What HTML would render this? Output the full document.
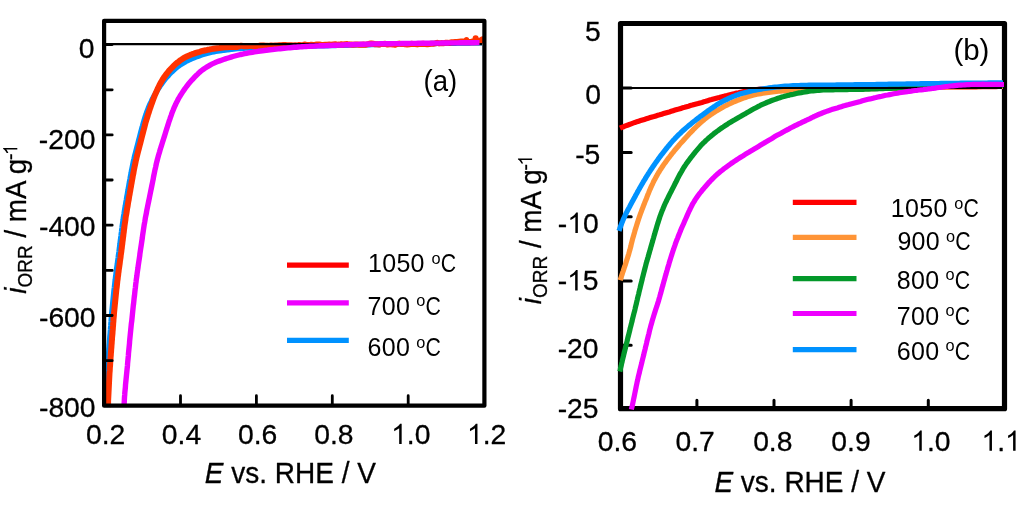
<!DOCTYPE html><html><head><meta charset="utf-8"><title>ORR curves</title><style>html,body{margin:0;padding:0;background:#fff;width:1024px;height:511px;overflow:hidden}.ar{stroke:#000;stroke-width:0.3px;stroke-linejoin:round}.h{fill-opacity:0;stroke-opacity:0}</style></head><body><svg width="1024" height="511" viewBox="0 0 1024 511" style="display:block;will-change:transform;font-family:'Liberation Sans',sans-serif"><defs><path id="one" d="M763,0H583V1147Q518,1085 412,1023T222,930V1104Q373,1175 486,1276T646,1472H763Z"/></defs><defs><clipPath id="ca"><rect x="100" y="20" width="386" height="388"/></clipPath><clipPath id="cb"><rect x="612" y="23" width="395" height="388"/></clipPath></defs><g clip-path="url(#ca)"><path d="M105.6,407.0L105.7,405.0L105.8,403.0L105.8,401.0L105.9,399.0L106.0,397.0L106.1,395.0L106.2,393.0L106.3,391.0L106.4,389.0L106.5,387.0L106.6,385.0L106.7,383.0L106.8,381.0L106.9,379.0L107.0,377.0L107.1,375.0L107.2,373.0L107.4,371.0L107.5,369.0L107.6,367.1L107.8,365.1L107.9,363.1L108.0,361.1L108.2,359.1L108.3,357.1L108.5,355.1L108.6,353.1L108.8,351.1L108.9,349.1L109.1,347.1L109.2,345.1L109.4,343.1L109.5,341.1L109.7,339.1L109.8,337.1L110.0,335.1L110.2,333.1L110.3,331.2L110.5,329.2L110.6,327.2L110.8,325.2L110.9,323.2L111.1,321.2L111.2,319.2L111.4,317.2L111.6,315.2L111.7,313.2L111.9,311.2L112.1,309.2L112.3,307.2L112.5,305.2L112.7,303.3L112.9,301.3L113.1,299.3L113.3,297.3L113.5,295.3L113.7,293.3L113.9,291.3L114.1,289.3L114.4,287.3L114.6,285.4L114.8,283.4L115.0,281.4L115.3,279.4L115.5,277.4L115.8,275.4L116.0,273.4L116.3,271.5L116.5,269.5L116.8,267.5L117.1,265.5L117.4,263.5L117.6,261.6L117.9,259.6L118.2,257.6L118.4,255.6L118.7,253.6L119.0,251.6L119.2,249.7L119.5,247.7L119.7,245.7L120.0,243.7L120.2,241.7L120.5,239.7L120.7,237.8L121.0,235.8L121.2,233.8L121.5,231.8L121.7,229.8L122.0,227.8L122.2,225.9L122.5,223.9L122.8,221.9L123.1,219.9L123.3,217.9L123.6,216.0L124.0,214.0L124.3,212.0L124.6,210.0L124.9,208.1L125.3,206.1L125.6,204.1L125.9,202.1L126.3,200.2L126.6,198.2L126.9,196.2L127.3,194.3L127.6,192.3L128.0,190.3L128.3,188.3L128.7,186.4L129.0,184.4L129.4,182.4L129.7,180.5L130.1,178.5L130.4,176.5L130.8,174.6L131.2,172.6L131.5,170.6L131.9,168.7L132.3,166.7L132.7,164.8L133.1,162.8L133.5,160.8L134.0,158.9L134.4,157.0L134.9,155.0L135.4,153.1L135.9,151.1L136.4,149.2L136.9,147.3L137.4,145.3L137.9,143.4L138.4,141.5L138.9,139.5L139.4,137.6L139.9,135.7L140.4,133.7L140.9,131.8L141.4,129.8L141.9,127.9L142.5,126.0L143.0,124.1L143.6,122.1L144.1,120.2L144.7,118.3L145.3,116.4L146.0,114.5L146.6,112.6L147.3,110.8L148.0,108.9L148.7,107.0L149.5,105.2L150.3,103.4L151.2,101.6L152.0,99.8L152.9,98.0L153.9,96.2L154.9,94.5L155.9,92.8L156.9,91.1L157.9,89.4L159.0,87.7L160.1,86.0L161.3,84.4L162.4,82.8L163.6,81.2L164.8,79.6L166.1,78.1L167.4,76.6L168.8,75.1L170.1,73.6L171.5,72.2L173.0,70.9L174.4,69.5L175.9,68.2L177.5,66.9L179.0,65.8L180.6,64.6L182.3,63.6L184.0,62.6L185.7,61.6L187.5,60.7L189.3,59.9L191.1,59.0L192.9,58.3L194.8,57.5L196.6,56.8L198.5,56.1L200.4,55.4L202.3,54.8L204.2,54.2L206.1,53.6L208.0,53.1L210.0,52.6L211.9,52.2L213.9,51.8L215.8,51.4L217.8,51.1L219.8,50.8L221.7,50.5L223.7,50.2L225.7,50.0L227.7,49.7L229.7,49.5L231.7,49.2L233.6,49.0L235.6,48.8L237.6,48.6L239.6,48.5L241.6,48.3L243.6,48.2L245.6,48.1L247.6,48.0L249.6,47.9L251.6,47.8L253.6,47.8L255.6,47.7L257.6,47.6L259.6,47.5L261.6,47.5L263.6,47.4L265.6,47.4L267.6,47.3L269.6,47.2L271.6,47.2L273.6,47.1L275.6,47.1L277.6,47.0L279.6,47.0L281.6,46.9L283.6,46.9L285.6,46.8L287.6,46.7L289.6,46.7L291.6,46.6L293.6,46.6L295.6,46.5L297.6,46.5L299.6,46.4L301.6,46.4L303.6,46.3L305.6,46.3L307.6,46.2L309.6,46.2L311.6,46.1L313.6,46.0L315.6,46.0L317.6,45.9L319.6,45.9L321.6,45.8L323.6,45.8L325.6,45.7L327.6,45.7L329.6,45.6L331.6,45.6L333.6,45.5L335.5,45.5L337.5,45.4L339.5,45.4L341.5,45.3L343.5,45.3L345.5,45.2L347.5,45.2L349.5,45.1L351.5,45.1L353.5,45.0L355.5,45.0L357.5,44.9L359.5,44.9L361.5,44.8L363.5,44.8L365.5,44.8L367.5,44.7L369.5,44.7L371.5,44.6L373.5,44.6L375.5,44.5L377.5,44.5L379.5,44.5L381.5,44.4L383.5,44.4L385.5,44.3L387.5,44.3L389.5,44.2L391.5,44.2L393.5,44.1L395.5,44.1L397.5,44.1L399.5,44.0L401.5,44.0L403.5,44.0L405.5,43.9L407.5,43.9L409.5,43.9L411.5,43.8L413.5,43.8L415.5,43.8L417.5,43.7L419.5,43.7L421.5,43.7L423.5,43.6L425.5,43.6L427.5,43.6L429.5,43.6L431.5,43.5L433.5,43.5L435.5,43.5L437.5,43.4L439.5,43.4L441.5,43.4L443.5,43.4L445.5,43.3L447.5,43.3L449.5,43.3L451.5,43.2L453.5,43.2L455.5,43.2L457.5,43.1L459.5,43.1L461.5,43.1L463.5,43.1L465.5,43.0L467.5,43.0L469.5,43.0L471.5,42.9L473.5,42.9L475.5,42.9L477.5,42.9L479.5,42.8L481.5,42.8L482.0,42.8" stroke="#0092ff" stroke-width="5.4" fill="none" stroke-linejoin="round" stroke-linecap="butt"/><path d="M107.9,407.0L108.0,405.0L108.1,403.0L108.1,401.0L108.2,399.0L108.3,397.0L108.4,395.0L108.5,393.0L108.6,391.0L108.7,389.0L108.8,387.0L108.9,385.0L109.0,383.0L109.1,381.0L109.2,379.0L109.3,377.0L109.4,375.0L109.5,373.0L109.7,371.0L109.8,369.0L109.9,367.1L110.1,365.1L110.2,363.1L110.3,361.1L110.5,359.1L110.6,357.1L110.8,355.1L110.9,353.1L111.1,351.1L111.2,349.1L111.4,347.1L111.5,345.1L111.7,343.1L111.8,341.1L112.0,339.1L112.1,337.1L112.3,335.1L112.5,333.1L112.6,331.2L112.8,329.2L112.9,327.2L113.1,325.2L113.2,323.2L113.4,321.2L113.5,319.2L113.7,317.2L113.9,315.2L114.0,313.2L114.2,311.2L114.4,309.2L114.6,307.2L114.8,305.2L115.0,303.3L115.2,301.3L115.4,299.3L115.6,297.3L115.8,295.3L116.0,293.3L116.2,291.3L116.4,289.3L116.7,287.3L116.9,285.4L117.1,283.4L117.3,281.4L117.6,279.4L117.8,277.4L118.1,275.4L118.3,273.4L118.6,271.5L118.8,269.5L119.1,267.5L119.4,265.5L119.7,263.5L119.9,261.6L120.2,259.6L120.5,257.6L120.7,255.6L121.0,253.6L121.3,251.6L121.5,249.7L121.8,247.7L122.0,245.7L122.3,243.7L122.5,241.7L122.8,239.7L123.0,237.8L123.3,235.8L123.5,233.8L123.8,231.8L124.0,229.8L124.3,227.8L124.5,225.9L124.8,223.9L125.1,221.9L125.4,219.9L125.6,217.9L125.9,216.0L126.3,214.0L126.6,212.0L126.9,210.0L127.2,208.1L127.6,206.1L127.9,204.1L128.2,202.1L128.6,200.2L128.9,198.2L129.2,196.2L129.6,194.3L129.9,192.3L130.3,190.3L130.6,188.3L131.0,186.4L131.3,184.4L131.7,182.4L132.0,180.5L132.4,178.5L132.7,176.5L133.1,174.6L133.5,172.6L133.8,170.6L134.2,168.7L134.6,166.7L135.0,164.8L135.4,162.8L135.8,160.8L136.3,158.9L136.7,157.0L137.2,155.0L137.7,153.1L138.2,151.1L138.7,149.2L139.2,147.3L139.7,145.3L140.2,143.4L140.7,141.5L141.2,139.5L141.7,137.6L142.2,135.6L142.7,133.7L143.2,131.8L143.7,129.8L144.2,127.9L144.7,126.0L145.2,124.0L145.7,122.1L146.3,120.2L146.9,118.3L147.5,116.4L148.0,114.5L148.7,112.6L149.3,110.7L149.9,108.8L150.6,106.9L151.2,105.0L151.9,103.1L152.6,101.2L153.3,99.3L154.0,97.5L154.7,95.6L155.5,93.8L156.3,91.9L157.1,90.1L157.9,88.3L158.8,86.5L159.7,84.7L160.6,83.0L161.6,81.2L162.6,79.5L163.7,77.8L164.8,76.2L166.0,74.6L167.2,73.0L168.4,71.5L169.7,70.0L171.1,68.5L172.5,67.1L173.9,65.7L175.3,64.3L176.8,63.0L178.4,61.8L179.9,60.6L181.6,59.5L183.2,58.4L184.9,57.4L186.7,56.5L188.5,55.7L190.3,54.9L192.2,54.2L194.0,53.6L195.9,52.9L197.8,52.3L199.7,51.8L201.6,51.2L203.6,50.7L205.5,50.3L207.5,49.8L209.4,49.5L211.4,49.1L213.4,48.8L215.3,48.5L217.3,48.2L219.3,48.0L221.3,47.7L223.3,47.5L225.3,47.3L227.2,47.2L229.2,47.0L231.2,46.9L233.2,46.8L235.2,46.9L237.2,47.0L239.2,46.3L241.2,45.7L243.2,46.2L245.2,46.2L247.2,46.3L249.2,46.1L251.2,46.1L253.2,46.1L255.2,46.1L257.2,46.1L259.2,45.8L261.2,45.4L263.2,45.4L265.2,45.8L267.2,45.7L269.2,46.0L271.2,45.5L273.2,45.7L275.2,45.5L277.2,45.4L279.2,45.3L281.2,45.2L283.2,45.1L285.2,45.1L287.2,45.2L289.2,45.2L291.2,45.2L293.2,45.4L295.2,45.2L297.2,45.5L299.2,44.9L301.2,45.2L303.2,45.0L305.2,44.5L307.2,45.1L309.2,45.1L311.2,44.7L313.2,44.9L315.2,44.8L317.2,44.4L319.2,44.6L321.2,44.8L323.2,44.9L325.2,44.7L327.2,44.7L329.2,44.6L331.2,44.7L333.2,44.4L335.2,44.2L337.2,44.8L339.2,44.6L341.2,44.3L343.2,44.7L345.2,44.2L347.2,44.1L349.2,44.6L351.2,44.5L353.2,44.8L355.2,44.6L357.2,44.5L359.2,44.7L361.2,44.7L363.2,44.6L365.2,44.8L367.2,44.3L369.2,43.8L371.2,43.5L373.2,43.8L375.2,44.2L377.2,44.3L379.2,44.6L381.2,44.0L383.2,43.9L385.2,43.8L387.2,44.5L389.2,44.2L391.2,44.2L393.2,44.4L395.2,44.8L397.2,44.0L399.2,43.6L401.2,44.0L403.2,43.9L405.2,44.3L407.2,44.4L409.2,44.3L411.2,43.8L413.2,44.0L415.2,44.1L417.2,44.4L419.2,44.1L421.2,44.0L423.2,43.7L425.2,44.1L427.2,44.3L429.2,44.0L431.2,43.8L433.2,43.8L435.2,43.4L437.2,42.8L439.2,43.4L441.2,43.1L443.2,43.3L445.2,42.8L447.2,42.8L449.2,43.0L451.2,42.2L453.1,42.2L455.1,42.1L457.1,42.0L459.1,41.8L461.1,41.6L463.1,41.6L465.1,41.6L467.1,41.7L469.1,41.9L471.1,41.8L473.1,41.6L475.1,41.4L477.1,41.2L479.1,40.8L481.1,40.5L483.0,40.4L485.0,40.3L486.0,40.4" stroke="#ff3300" stroke-width="6" fill="none" stroke-linejoin="round" stroke-linecap="butt"/><g fill="#ff3300"><circle cx="466.5" cy="39.6" r="2.6"/><circle cx="475.6" cy="38.2" r="3"/><circle cx="482.8" cy="39.4" r="3.2"/></g><line x1="106" y1="44.1" x2="482" y2="44.1" stroke="#000" stroke-width="2.2"/><path d="M124.0,407.0L124.1,405.0L124.2,403.0L124.3,401.0L124.4,399.0L124.5,397.0L124.7,395.0L124.8,393.0L125.0,391.0L125.2,389.1L125.4,387.1L125.5,385.1L125.7,383.1L125.9,381.1L126.1,379.1L126.3,377.1L126.5,375.1L126.7,373.1L126.9,371.1L127.1,369.1L127.3,367.2L127.5,365.2L127.6,363.2L127.8,361.2L128.0,359.2L128.2,357.2L128.4,355.2L128.5,353.2L128.7,351.2L128.9,349.2L129.1,347.2L129.3,345.2L129.5,343.3L129.6,341.3L129.8,339.3L130.0,337.3L130.2,335.3L130.4,333.3L130.6,331.3L130.8,329.3L131.0,327.3L131.2,325.3L131.4,323.4L131.7,321.4L131.9,319.4L132.1,317.4L132.3,315.4L132.5,313.4L132.7,311.4L132.9,309.4L133.1,307.4L133.3,305.5L133.6,303.5L133.8,301.5L134.0,299.5L134.2,297.5L134.5,295.5L134.7,293.5L134.9,291.5L135.1,289.6L135.4,287.6L135.6,285.6L135.8,283.6L136.1,281.6L136.3,279.6L136.6,277.6L136.9,275.7L137.1,273.7L137.4,271.7L137.7,269.7L138.0,267.7L138.2,265.8L138.5,263.8L138.8,261.8L139.1,259.8L139.4,257.8L139.7,255.9L139.9,253.9L140.2,251.9L140.5,249.9L140.8,247.9L141.1,246.0L141.4,244.0L141.7,242.0L142.0,240.0L142.3,238.0L142.5,236.1L142.8,234.1L143.1,232.1L143.4,230.1L143.7,228.2L144.0,226.2L144.3,224.2L144.7,222.2L145.0,220.3L145.3,218.3L145.7,216.3L146.1,214.4L146.5,212.4L146.8,210.4L147.2,208.5L147.6,206.5L148.0,204.5L148.4,202.6L148.8,200.6L149.2,198.7L149.6,196.7L150.0,194.7L150.4,192.8L150.8,190.8L151.2,188.9L151.6,186.9L152.0,184.9L152.4,183.0L152.8,181.0L153.2,179.1L153.5,177.1L153.9,175.1L154.3,173.2L154.7,171.2L155.1,169.3L155.6,167.3L156.0,165.4L156.4,163.4L156.9,161.5L157.4,159.5L157.9,157.6L158.4,155.7L159.0,153.8L159.6,151.8L160.1,149.9L160.7,148.0L161.3,146.1L161.9,144.2L162.5,142.3L163.1,140.4L163.7,138.5L164.3,136.6L164.9,134.7L165.5,132.7L166.1,130.8L166.7,128.9L167.3,127.0L167.9,125.1L168.5,123.2L169.1,121.3L169.8,119.4L170.4,117.5L171.1,115.6L171.7,113.8L172.4,111.9L173.2,110.0L173.9,108.2L174.7,106.4L175.6,104.5L176.4,102.7L177.3,101.0L178.2,99.2L179.2,97.5L180.2,95.8L181.3,94.1L182.4,92.4L183.5,90.7L184.6,89.1L185.8,87.5L187.0,85.9L188.2,84.3L189.5,82.8L190.8,81.3L192.1,79.8L193.5,78.3L194.8,76.9L196.2,75.5L197.7,74.1L199.1,72.7L200.6,71.4L202.2,70.2L203.8,69.0L205.4,67.9L207.1,66.8L208.8,65.8L210.5,64.8L212.3,63.9L214.1,63.1L215.9,62.3L217.7,61.6L219.6,60.9L221.5,60.2L223.4,59.5L225.3,58.9L227.2,58.3L229.1,57.7L231.0,57.1L232.9,56.5L234.8,56.0L236.7,55.5L238.7,55.0L240.6,54.5L242.6,54.1L244.5,53.7L246.5,53.3L248.5,52.9L250.4,52.6L252.4,52.3L254.4,51.9L256.3,51.6L258.3,51.3L260.3,51.1L262.3,50.8L264.3,50.5L266.2,50.3L268.2,50.0L270.2,49.8L272.2,49.6L274.2,49.3L276.2,49.1L278.2,48.9L280.2,48.7L282.1,48.5L284.1,48.3L286.1,48.1L288.1,47.9L290.1,47.7L292.1,47.5L294.1,47.3L296.1,47.2L298.1,47.0L300.1,46.9L302.1,46.7L304.1,46.6L306.1,46.5L308.1,46.4L310.0,46.3L312.0,46.2L314.0,46.1L316.0,46.0L318.0,45.9L320.0,45.8L322.0,45.8L324.0,45.7L326.0,45.6L328.0,45.5L330.0,45.5L332.0,45.4L334.0,45.3L336.0,45.2L338.0,45.1L340.0,45.1L342.0,45.0L344.0,44.9L346.0,44.8L348.0,44.7L350.0,44.7L352.0,44.6L354.0,44.5L356.0,44.4L358.0,44.4L360.0,44.3L362.0,44.2L364.0,44.2L366.0,44.1L368.0,44.0L370.0,44.0L372.0,44.0L374.0,43.9L376.0,43.9L378.0,43.9L380.0,43.8L382.0,43.8L384.0,43.8L386.0,43.7L388.0,43.7L390.0,43.7L392.0,43.7L394.0,43.6L396.0,43.6L398.0,43.6L400.0,43.6L402.0,43.5L404.0,43.5L406.0,43.5L408.0,43.5L410.0,43.4L412.0,43.4L414.0,43.4L416.0,43.4L418.0,43.3L420.0,43.3L422.0,43.3L424.0,43.3L426.0,43.2L428.0,43.2L430.0,43.2L432.0,43.2L434.0,43.1L436.0,43.1L438.0,43.1L440.0,43.1L442.0,43.0L444.0,43.0L446.0,43.0L448.0,43.0L450.0,42.9L452.0,42.9L454.0,42.9L456.0,42.9L458.0,42.9L460.0,42.8L462.0,42.8L464.0,42.8L466.0,42.8L468.0,42.7L469.9,42.7L471.9,42.7L473.8,42.7L475.7,42.6L477.6,42.6L479.5,42.6" stroke="#ee00ff" stroke-width="5.4" fill="none" stroke-linejoin="round" stroke-linecap="butt"/></g><path d="M104,44.6H112.2 M104,89.8H112.2 M104,134.9H112.2 M104,180.0H112.2 M104,225.2H112.2 M104,270.4H112.2 M104,315.5H112.2 M104,360.7H112.2 M180.5,405.7V395.7 M256.4,405.7V395.7 M332.3,405.7V395.7 M408.2,405.7V395.7" stroke="#000" stroke-width="2.8" stroke-linecap="round" fill="none"/><rect x="104.1" y="20.8" width="380.3" height="384.9" fill="none" stroke="#000" stroke-width="4.2" stroke-linejoin="round"/><path d="M620,23.8H631.2 M620,88.1H631.2 M620,152.4H631.2 M620,216.7H631.2 M620,281.0H631.2 M620,345.3H631.2 M620,409.6H631.2 M696.9,408.7V400.3 M774.0,408.7V400.3 M851.1,408.7V400.3 M928.3,408.7V400.3" stroke="#000" stroke-width="3" stroke-linecap="round" fill="none"/><rect x="620.5" y="23.5" width="384" height="385.2" fill="none" stroke="#000" stroke-width="5.2" stroke-linejoin="round"/><g clip-path="url(#cb)"><path d="M620.0,128.2L621.8,127.4L623.7,126.7L625.5,125.9L627.4,125.2L629.3,124.5L631.1,123.8L633.0,123.1L634.9,122.4L636.8,121.8L638.7,121.2L640.6,120.6L642.5,120.0L644.4,119.4L646.3,118.8L648.2,118.2L650.2,117.6L652.1,117.0L654.0,116.5L655.9,115.9L657.8,115.3L659.7,114.8L661.7,114.2L663.6,113.6L665.5,113.0L667.4,112.4L669.3,111.9L671.2,111.3L673.1,110.7L675.1,110.1L677.0,109.5L678.9,109.0L680.8,108.4L682.7,107.8L684.6,107.3L686.6,106.7L688.5,106.2L690.4,105.6L692.3,105.1L694.3,104.5L696.2,104.0L698.1,103.5L700.0,102.9L702.0,102.4L703.9,101.8L705.8,101.3L707.7,100.7L709.6,100.1L711.5,99.6L713.5,99.0L715.4,98.5L717.3,98.0L719.3,97.5L721.2,96.9L723.1,96.4L725.1,95.9L727.0,95.5L728.9,95.0L730.9,94.5L732.8,94.0L734.8,93.6L736.7,93.1L738.7,92.7L740.6,92.2L742.6,91.8L744.5,91.4L746.5,91.1L748.5,90.7L750.4,90.4L752.4,90.1L754.4,89.9L756.4,89.6L758.4,89.4L760.4,89.2L762.3,89.1L764.3,89.0L766.3,88.8L768.3,88.8L770.3,88.7L772.3,88.6L774.3,88.5L776.3,88.5L778.3,88.4L780.3,88.4L782.3,88.3L784.3,88.3L786.3,88.3L788.3,88.3L790.3,88.3L792.3,88.3L794.3,88.2L796.3,88.2L798.3,88.2L800.3,88.2L802.3,88.2L804.3,88.2L806.3,88.2L808.3,88.2L810.3,88.2L812.3,88.2L814.3,88.2L816.3,88.1L818.3,88.1L820.3,88.1L822.3,88.1L824.3,88.1L826.3,88.1L828.3,88.1L830.3,88.1L832.3,88.1L834.3,88.1L836.3,88.1L838.3,88.0L840.3,88.0L842.3,88.0L844.3,88.0L846.3,88.0L848.3,88.0L850.3,88.0L852.3,88.0L854.3,88.0L856.3,87.9L858.3,87.9L860.3,87.9L862.3,87.9L864.3,87.9L866.3,87.8L868.3,87.8L870.3,87.8L872.3,87.8L874.3,87.8L876.3,87.7L878.3,87.7L880.3,87.7L882.3,87.7L884.3,87.7L886.3,87.6L888.3,87.6L890.3,87.6L892.3,87.6L894.3,87.6L896.3,87.5L898.3,87.5L900.3,87.5L902.3,87.5L904.3,87.5L906.3,87.4L908.3,87.4L910.3,87.4L912.3,87.4L914.3,87.4L916.3,87.3L918.3,87.3L920.3,87.3L922.3,87.3L924.3,87.3L926.3,87.2L928.3,87.2L930.3,87.2L932.3,87.2L934.3,87.2L936.3,87.1L938.3,87.1L940.3,87.1L942.3,87.1L944.3,87.1L946.3,87.0L948.3,87.0L950.3,87.0L952.3,87.0L954.3,87.0L956.3,86.9L958.3,86.9L960.3,86.9L962.3,86.9L964.3,86.9L966.3,86.9L968.3,86.8L970.3,86.8L972.3,86.8L974.3,86.8L976.3,86.8L978.3,86.7L980.3,86.7L982.3,86.7L984.3,86.7L986.3,86.7L988.3,86.6L990.3,86.6L992.3,86.6L994.3,86.6L996.2,86.6L998.2,86.5L1000.1,86.5L1002.0,86.5L1003.0,86.5" stroke="#ff0000" stroke-width="5.2" fill="none" stroke-linejoin="round" stroke-linecap="butt"/><path d="M620.2,280.3L620.8,278.4L621.4,276.5L622.0,274.6L622.6,272.7L623.3,270.8L623.9,268.9L624.5,267.0L625.2,265.1L625.8,263.2L626.4,261.3L627.0,259.4L627.6,257.5L628.2,255.6L628.8,253.7L629.3,251.8L629.9,249.8L630.4,247.9L630.9,246.0L631.3,244.0L631.8,242.1L632.3,240.2L632.8,238.2L633.4,236.3L633.9,234.4L634.5,232.4L635.0,230.5L635.6,228.6L636.2,226.7L636.8,224.8L637.4,222.9L638.0,221.0L638.6,219.1L639.3,217.2L639.9,215.3L640.6,213.4L641.3,211.6L642.0,209.7L642.7,207.8L643.4,206.0L644.2,204.1L644.9,202.2L645.6,200.4L646.4,198.5L647.1,196.6L647.8,194.8L648.6,192.9L649.3,191.1L650.1,189.2L650.9,187.4L651.7,185.6L652.6,183.8L653.4,182.0L654.3,180.2L655.3,178.4L656.2,176.7L657.2,174.9L658.2,173.2L659.3,171.5L660.3,169.8L661.4,168.2L662.5,166.5L663.6,164.8L664.8,163.2L666.0,161.6L667.1,160.0L668.3,158.4L669.6,156.8L670.8,155.2L672.0,153.6L673.3,152.1L674.5,150.5L675.8,149.0L677.1,147.5L678.4,146.0L679.7,144.4L681.0,142.9L682.4,141.5L683.7,140.0L685.0,138.5L686.4,137.0L687.8,135.5L689.1,134.1L690.5,132.6L691.9,131.2L693.2,129.7L694.6,128.3L696.1,126.9L697.5,125.5L699.0,124.1L700.4,122.8L701.9,121.5L703.5,120.2L705.0,118.9L706.6,117.7L708.2,116.5L709.8,115.3L711.4,114.2L713.1,113.1L714.7,112.0L716.4,110.9L718.1,109.9L719.8,108.9L721.6,107.9L723.3,106.9L725.1,106.0L726.9,105.1L728.7,104.2L730.5,103.3L732.3,102.5L734.1,101.7L736.0,101.0L737.8,100.2L739.7,99.5L741.5,98.8L743.4,98.1L745.3,97.5L747.2,96.8L749.1,96.3L751.0,95.7L752.9,95.2L754.9,94.8L756.8,94.3L758.8,93.9L760.8,93.6L762.7,93.3L764.7,92.9L766.7,92.6L768.7,92.4L770.6,92.1L772.6,91.9L774.6,91.7L776.6,91.4L778.6,91.2L780.6,91.1L782.6,90.9L784.6,90.8L786.6,90.6L788.6,90.5L790.6,90.4L792.5,90.2L794.5,90.1L796.5,90.0L798.5,90.0L800.5,89.9L802.5,89.8L804.5,89.7L806.5,89.7L808.5,89.6L810.5,89.6L812.5,89.6L814.5,89.5L816.5,89.5L818.5,89.4L820.5,89.4L822.5,89.4L824.5,89.3L826.5,89.3L828.5,89.2L830.5,89.2L832.5,89.2L834.5,89.1L836.5,89.1L838.5,89.1L840.5,89.1L842.5,89.0L844.5,89.0L846.5,89.0L848.5,88.9L850.5,88.9L852.5,88.9L854.5,88.9L856.5,88.8L858.5,88.8L860.5,88.8L862.5,88.7L864.5,88.7L866.5,88.7L868.5,88.7L870.5,88.6L872.5,88.6L874.5,88.6L876.5,88.5L878.5,88.5L880.5,88.5L882.5,88.4L884.5,88.4L886.5,88.4L888.5,88.3L890.5,88.3L892.5,88.2L894.5,88.2L896.5,88.1L898.5,88.1L900.5,88.1L902.5,88.0L904.5,88.0L906.5,87.9L908.5,87.9L910.5,87.8L912.5,87.8L914.5,87.8L916.5,87.7L918.5,87.7L920.5,87.6L922.5,87.6L924.5,87.5L926.5,87.5L928.5,87.4L930.5,87.4L932.5,87.4L934.5,87.3L936.5,87.3L938.5,87.2L940.5,87.2L942.5,87.2L944.5,87.1L946.5,87.1L948.5,87.1L950.5,87.0L952.5,87.0L954.5,87.0L956.5,86.9L958.5,86.9L960.5,86.9L962.5,86.8L964.5,86.8L966.5,86.8L968.5,86.7L970.5,86.7L972.5,86.7L974.5,86.7L976.5,86.6L978.5,86.6L980.5,86.6L982.5,86.5L984.5,86.5L986.5,86.5L988.5,86.4L990.5,86.4L992.5,86.4L994.5,86.3L996.5,86.3L998.5,86.3L1000.5,86.2L1002.5,86.2L1003.0,86.2" stroke="#ff9436" stroke-width="5.2" fill="none" stroke-linejoin="round" stroke-linecap="butt"/><path d="M619.8,371.5L620.3,369.6L620.7,367.6L621.2,365.7L621.6,363.7L622.1,361.8L622.5,359.8L623.0,357.9L623.5,355.9L623.9,354.0L624.4,352.0L624.9,350.1L625.4,348.2L625.8,346.2L626.3,344.3L626.8,342.3L627.3,340.4L627.7,338.4L628.2,336.5L628.7,334.6L629.2,332.6L629.7,330.7L630.1,328.7L630.6,326.8L631.1,324.8L631.6,322.9L632.1,321.0L632.5,319.0L633.0,317.1L633.5,315.1L634.0,313.2L634.5,311.3L635.0,309.3L635.4,307.4L635.9,305.4L636.4,303.5L636.8,301.5L637.3,299.6L637.7,297.6L638.2,295.7L638.7,293.8L639.1,291.8L639.6,289.9L640.1,287.9L640.5,286.0L641.0,284.0L641.5,282.1L642.0,280.2L642.4,278.2L642.9,276.3L643.4,274.3L643.9,272.4L644.4,270.5L644.9,268.5L645.4,266.6L645.9,264.7L646.4,262.7L647.0,260.8L647.5,258.9L648.1,257.0L648.6,255.0L649.2,253.1L649.7,251.2L650.3,249.3L650.8,247.3L651.4,245.4L651.9,243.5L652.5,241.6L653.0,239.7L653.6,237.7L654.1,235.8L654.7,233.9L655.2,232.0L655.8,230.0L656.4,228.1L656.9,226.2L657.5,224.3L658.1,222.4L658.7,220.5L659.3,218.6L659.9,216.7L660.6,214.8L661.3,212.9L662.0,211.1L662.8,209.2L663.5,207.4L664.3,205.5L665.1,203.7L666.0,201.9L666.8,200.1L667.7,198.3L668.6,196.5L669.5,194.7L670.4,192.9L671.3,191.2L672.2,189.4L673.1,187.6L674.0,185.8L674.9,184.0L675.8,182.3L676.7,180.5L677.6,178.7L678.5,176.9L679.4,175.1L680.4,173.4L681.4,171.7L682.4,169.9L683.4,168.2L684.5,166.5L685.6,164.9L686.7,163.2L687.9,161.6L689.1,160.0L690.3,158.4L691.5,156.8L692.7,155.3L694.0,153.7L695.2,152.1L696.5,150.6L697.8,149.1L699.1,147.6L700.4,146.1L701.8,144.6L703.1,143.2L704.6,141.8L706.0,140.4L707.5,139.1L709.0,137.7L710.5,136.5L712.0,135.2L713.6,133.9L715.2,132.7L716.7,131.5L718.4,130.3L720.0,129.1L721.6,128.0L723.3,126.9L724.9,125.8L726.6,124.7L728.3,123.6L730.0,122.6L731.7,121.5L733.4,120.5L735.2,119.5L736.9,118.5L738.6,117.5L740.4,116.5L742.1,115.5L743.8,114.5L745.6,113.6L747.3,112.6L749.1,111.6L750.8,110.6L752.5,109.6L754.3,108.6L756.0,107.7L757.8,106.7L759.6,105.8L761.3,104.9L763.1,104.1L765.0,103.3L766.8,102.5L768.7,101.8L770.5,101.0L772.4,100.3L774.3,99.6L776.1,99.0L778.0,98.3L779.9,97.7L781.8,97.1L783.8,96.6L785.7,96.0L787.6,95.5L789.5,95.1L791.5,94.6L793.4,94.2L795.4,93.7L797.4,93.3L799.3,92.9L801.3,92.6L803.2,92.2L805.2,91.9L807.2,91.6L809.2,91.3L811.1,91.0L813.1,90.8L815.1,90.6L817.1,90.4L819.1,90.3L821.1,90.2L823.1,90.0L825.1,90.0L827.1,89.9L829.1,89.8L831.1,89.8L833.1,89.8L835.1,89.7L837.1,89.7L839.1,89.7L841.1,89.6L843.1,89.6L845.1,89.6L847.1,89.6L849.1,89.5L851.1,89.5L853.1,89.5L855.1,89.4L857.1,89.4L859.1,89.4L861.1,89.3L863.1,89.3L865.1,89.2L867.1,89.1L869.1,89.1L871.1,89.0L873.1,88.9L875.1,88.9L877.1,88.8L879.1,88.7L881.1,88.7L883.1,88.6L885.1,88.5L887.1,88.5L889.1,88.4L891.1,88.3L893.0,88.2L895.0,88.2L897.0,88.1L899.0,88.0L901.0,87.9L903.0,87.8L905.0,87.8L907.0,87.7L909.0,87.6L911.0,87.5L913.0,87.4L915.0,87.3L917.0,87.2L919.0,87.1L921.0,87.0L923.0,87.0L925.0,86.9L927.0,86.8L929.0,86.7L931.0,86.6L933.0,86.6L935.0,86.5L937.0,86.4L939.0,86.4L941.0,86.3L943.0,86.3L945.0,86.3L947.0,86.2L949.0,86.2L951.0,86.2L953.0,86.2L955.0,86.1L957.0,86.1L959.0,86.1L961.0,86.1L963.0,86.0L965.0,86.0L967.0,86.0L969.0,85.9L971.0,85.9L973.0,85.9L975.0,85.9L977.0,85.8L979.0,85.8L981.0,85.8L983.0,85.8L985.0,85.7L987.0,85.7L989.0,85.7L991.0,85.7L993.0,85.6L995.0,85.6L997.0,85.6L999.0,85.6L1001.0,85.5L1003.0,85.5" stroke="#03982a" stroke-width="5.2" fill="none" stroke-linejoin="round" stroke-linecap="butt"/><path d="M619.0,230.8L619.7,228.9L620.3,227.0L621.0,225.2L621.7,223.3L622.5,221.4L623.2,219.6L624.0,217.8L624.9,216.0L625.7,214.2L626.6,212.4L627.5,210.6L628.5,208.8L629.4,207.1L630.3,205.3L631.3,203.5L632.2,201.8L633.2,200.0L634.1,198.3L635.1,196.5L636.0,194.7L637.0,193.0L637.9,191.2L638.9,189.5L639.9,187.7L640.9,186.0L641.9,184.3L642.9,182.6L643.9,180.8L645.0,179.1L646.0,177.4L647.1,175.7L648.1,174.0L649.2,172.4L650.3,170.7L651.4,169.0L652.5,167.3L653.6,165.7L654.8,164.0L655.9,162.4L657.1,160.8L658.2,159.1L659.4,157.5L660.6,155.9L661.8,154.3L663.0,152.8L664.3,151.2L665.5,149.6L666.8,148.0L668.0,146.5L669.3,145.0L670.6,143.4L671.9,141.9L673.2,140.4L674.6,139.0L675.9,137.5L677.3,136.1L678.7,134.7L680.2,133.3L681.6,131.9L683.1,130.5L684.6,129.2L686.1,127.9L687.6,126.6L689.1,125.3L690.7,124.1L692.2,122.8L693.8,121.5L695.4,120.3L696.9,119.1L698.5,117.9L700.1,116.6L701.7,115.5L703.3,114.3L704.9,113.1L706.6,111.9L708.2,110.7L709.8,109.6L711.5,108.4L713.1,107.3L714.8,106.2L716.4,105.1L718.1,104.1L719.9,103.1L721.6,102.1L723.3,101.1L725.1,100.2L726.9,99.3L728.7,98.4L730.5,97.6L732.3,96.8L734.2,96.1L736.0,95.3L737.9,94.7L739.8,94.0L741.7,93.4L743.6,92.9L745.5,92.4L747.5,91.9L749.4,91.4L751.3,90.9L753.3,90.5L755.3,90.2L757.2,89.8L759.2,89.4L761.2,89.1L763.1,88.8L765.1,88.5L767.1,88.2L769.1,87.9L771.1,87.7L773.0,87.4L775.0,87.2L777.0,87.0L779.0,86.8L781.0,86.6L783.0,86.4L785.0,86.2L787.0,86.1L789.0,86.0L791.0,85.8L793.0,85.7L795.0,85.6L796.9,85.5L798.9,85.5L800.9,85.4L802.9,85.3L804.9,85.3L806.9,85.3L808.9,85.2L810.9,85.2L812.9,85.2L814.9,85.2L816.9,85.1L818.9,85.1L820.9,85.1L822.9,85.1L824.9,85.1L826.9,85.0L828.9,85.0L830.9,85.0L832.9,85.0L834.9,85.0L836.9,84.9L838.9,84.9L840.9,84.9L842.9,84.9L844.9,84.9L846.9,84.8L848.9,84.8L850.9,84.8L852.9,84.8L854.9,84.7L856.9,84.7L858.9,84.7L860.9,84.7L862.9,84.6L864.9,84.6L866.9,84.6L868.9,84.6L870.9,84.5L872.9,84.5L874.9,84.5L876.9,84.4L878.9,84.4L880.9,84.4L882.9,84.3L884.9,84.3L886.9,84.3L888.9,84.2L890.9,84.2L892.9,84.2L894.9,84.1L896.9,84.1L898.9,84.1L900.9,84.0L902.9,84.0L904.9,84.0L906.9,83.9L908.9,83.9L910.9,83.9L912.9,83.9L914.9,83.8L916.9,83.8L918.9,83.8L920.9,83.7L922.9,83.7L924.9,83.7L926.9,83.6L928.9,83.6L930.9,83.6L932.9,83.5L934.9,83.5L936.9,83.5L938.9,83.5L940.9,83.4L942.9,83.4L944.9,83.4L946.9,83.4L948.9,83.4L950.9,83.3L952.9,83.3L954.9,83.3L956.9,83.3L958.9,83.3L960.9,83.2L962.9,83.2L964.9,83.2L966.9,83.2L968.9,83.2L970.9,83.1L972.9,83.1L974.9,83.1L976.9,83.1L978.9,83.0L980.9,83.0L982.9,83.0L984.9,83.0L986.9,83.0L988.9,82.9L990.9,82.9L992.9,82.9L994.8,82.9L996.8,82.9L998.7,82.8L1000.6,82.8L1002.5,82.8L1003.0,82.8" stroke="#0092ff" stroke-width="5.2" fill="none" stroke-linejoin="round" stroke-linecap="butt"/><line x1="623" y1="88" x2="1002" y2="88" stroke="#000" stroke-width="1.8"/><path d="M631.4,409.6L631.8,407.6L632.3,405.7L632.7,403.7L633.1,401.8L633.5,399.8L633.9,397.9L634.3,395.9L634.7,393.9L635.1,392.0L635.5,390.0L635.9,388.1L636.3,386.1L636.7,384.2L637.1,382.2L637.6,380.2L638.0,378.3L638.4,376.3L638.9,374.4L639.4,372.5L639.8,370.5L640.3,368.6L640.8,366.6L641.3,364.7L641.8,362.7L642.2,360.8L642.7,358.9L643.2,356.9L643.7,355.0L644.1,353.0L644.6,351.1L645.1,349.1L645.5,347.2L646.0,345.3L646.5,343.3L646.9,341.4L647.4,339.4L647.9,337.5L648.4,335.5L648.9,333.6L649.3,331.7L649.8,329.7L650.3,327.8L650.8,325.8L651.4,323.9L651.9,322.0L652.4,320.1L653.0,318.2L653.6,316.2L654.2,314.3L654.8,312.4L655.4,310.5L656.0,308.6L656.7,306.7L657.3,304.8L657.9,302.9L658.5,301.0L659.0,299.1L659.6,297.2L660.1,295.3L660.7,293.3L661.2,291.4L661.7,289.5L662.2,287.5L662.8,285.6L663.3,283.7L663.8,281.8L664.4,279.8L664.9,277.9L665.4,276.0L666.0,274.1L666.5,272.1L667.1,270.2L667.6,268.3L668.2,266.4L668.8,264.4L669.3,262.5L669.9,260.6L670.5,258.7L671.1,256.8L671.7,254.9L672.3,253.0L672.9,251.1L673.6,249.2L674.2,247.3L674.9,245.4L675.5,243.5L676.2,241.6L676.9,239.8L677.7,237.9L678.4,236.0L679.1,234.2L679.9,232.3L680.6,230.5L681.4,228.6L682.2,226.8L683.0,225.0L683.8,223.2L684.6,221.3L685.4,219.5L686.2,217.7L687.0,215.9L687.8,214.0L688.6,212.2L689.5,210.4L690.3,208.6L691.2,206.8L692.1,205.0L693.0,203.3L694.1,201.6L695.1,199.9L696.2,198.3L697.4,196.6L698.5,195.0L699.7,193.4L701.0,191.9L702.2,190.3L703.5,188.8L704.8,187.2L706.1,185.7L707.4,184.2L708.7,182.7L710.1,181.3L711.5,179.8L712.9,178.4L714.3,177.0L715.7,175.6L717.2,174.3L718.7,173.0L720.2,171.7L721.8,170.5L723.4,169.2L725.0,168.0L726.6,166.8L728.2,165.7L729.8,164.5L731.4,163.3L733.1,162.2L734.7,161.1L736.4,160.0L738.1,158.9L739.8,157.8L741.5,156.7L743.2,155.7L744.9,154.6L746.6,153.6L748.3,152.6L750.0,151.5L751.7,150.5L753.4,149.5L755.1,148.4L756.8,147.4L758.5,146.4L760.3,145.3L762.0,144.3L763.7,143.3L765.4,142.2L767.1,141.2L768.8,140.2L770.6,139.2L772.3,138.2L774.0,137.1L775.7,136.1L777.5,135.1L779.2,134.2L781.0,133.2L782.7,132.2L784.5,131.2L786.2,130.3L788.0,129.4L789.7,128.4L791.5,127.5L793.3,126.6L795.1,125.7L796.9,124.8L798.7,123.9L800.5,123.1L802.3,122.2L804.1,121.3L805.9,120.5L807.7,119.6L809.5,118.8L811.3,117.9L813.1,117.0L814.9,116.2L816.7,115.3L818.5,114.5L820.4,113.8L822.2,113.0L824.1,112.3L825.9,111.6L827.8,110.9L829.7,110.3L831.6,109.6L833.5,109.0L835.4,108.4L837.3,107.9L839.2,107.3L841.2,106.7L843.1,106.1L845.0,105.6L846.9,105.0L848.8,104.5L850.8,103.9L852.7,103.4L854.6,102.9L856.6,102.4L858.5,101.9L860.4,101.4L862.4,100.8L864.3,100.3L866.2,99.8L868.2,99.3L870.1,98.9L872.1,98.4L874.0,97.9L875.9,97.5L877.9,97.0L879.8,96.6L881.8,96.2L883.8,95.7L885.7,95.3L887.7,95.0L889.6,94.6L891.6,94.2L893.6,93.8L895.5,93.5L897.5,93.2L899.5,92.8L901.5,92.5L903.4,92.2L905.4,91.9L907.4,91.6L909.4,91.3L911.3,91.1L913.3,90.8L915.3,90.5L917.3,90.3L919.3,90.0L921.3,89.8L923.3,89.6L925.2,89.3L927.2,89.1L929.2,88.8L931.2,88.6L933.2,88.3L935.2,88.1L937.1,87.8L939.1,87.5L941.1,87.3L943.1,87.0L945.1,86.7L947.0,86.5L949.0,86.2L951.0,86.0L953.0,85.8L955.0,85.6L957.0,85.4L959.0,85.2L961.0,85.1L963.0,85.0L965.0,84.8L967.0,84.7L969.0,84.6L970.9,84.5L972.9,84.4L974.9,84.4L976.9,84.3L978.9,84.3L980.9,84.3L982.9,84.2L984.9,84.3L986.9,84.3L988.9,84.3L990.9,84.3L992.9,84.3L994.9,84.4L996.8,84.4L998.7,84.4L1000.7,84.5L1002.6,84.5L1004.0,84.5" stroke="#ee00ff" stroke-width="5.2" fill="none" stroke-linejoin="round" stroke-linecap="butt"/></g><line x1="287" y1="265.2" x2="348.8" y2="265.2" stroke="#ff0000" stroke-width="5.2"/><line x1="287" y1="302.8" x2="348.8" y2="302.8" stroke="#ee00ff" stroke-width="5.2"/><line x1="287" y1="340.3" x2="348.8" y2="340.3" stroke="#0092ff" stroke-width="5.2"/><line x1="792.8" y1="202.3" x2="856.5" y2="202.3" stroke="#ff0000" stroke-width="5.2"/><line x1="792.8" y1="237.4" x2="856.5" y2="237.4" stroke="#ff9436" stroke-width="5.2"/><line x1="792.8" y1="278.6" x2="856.5" y2="278.6" stroke="#03982a" stroke-width="5.2"/><line x1="792.8" y1="313.5" x2="856.5" y2="313.5" stroke="#ee00ff" stroke-width="5.2"/><line x1="792.8" y1="349.6" x2="856.5" y2="349.6" stroke="#0092ff" stroke-width="5.2"/><text class="ar" x="94.5" y="57.6" font-size="28.3" text-anchor="end" >0</text><text class="ar" x="95.4" y="149.1" font-size="28.3" text-anchor="end" >-200</text><text class="ar" x="95.6" y="236.2" font-size="28.3" text-anchor="end" >-400</text><text class="ar" x="95.6" y="326.7" font-size="28.3" text-anchor="end" >-600</text><text class="ar" x="95.6" y="417.1" font-size="28.3" text-anchor="end" >-800</text><text class="ar" x="105.6" y="444.0" font-size="28.3" text-anchor="middle" >0.2</text><text class="ar" x="181.5" y="444.0" font-size="28.3" text-anchor="middle" >0.4</text><text class="ar" x="257.7" y="444.0" font-size="28.3" text-anchor="middle" >0.6</text><text class="ar" x="333.9" y="444.0" font-size="28.3" text-anchor="middle" >0.8</text><text class="ar" x="410.8" y="444.0" font-size="28.3" text-anchor="middle" ><tspan class="h">1</tspan>.0</text><use href="#one" class="ar" transform="translate(391.12,444.00) scale(0.01382,-0.01382)"/><text class="ar" x="486.6" y="444.0" font-size="28.3" text-anchor="middle" ><tspan class="h">1</tspan>.2</text><use href="#one" class="ar" transform="translate(466.92,444.00) scale(0.01382,-0.01382)"/><g transform="translate(204.8,483.2) scale(1,1.035)"><text class="ar" x="0.0" y="0.0" font-size="28.0" text-anchor="start" ><tspan font-style="italic">E</tspan> vs. RHE / V</text></g><text class="ar" x="600.7" y="40.5" font-size="28.3" text-anchor="end" >5</text><text class="ar" x="600.9" y="103.5" font-size="28.3" text-anchor="end" >0</text><text class="ar" x="600.3" y="163.7" font-size="28.3" text-anchor="end" >-5</text><text class="ar" x="598.8" y="232.9" font-size="28.3" text-anchor="end" >-<tspan class="h">1</tspan>0</text><use href="#one" class="ar" transform="translate(567.30,232.90) scale(0.01382,-0.01382)"/><text class="ar" x="598.6" y="290.4" font-size="28.3" text-anchor="end" >-<tspan class="h">1</tspan>5</text><use href="#one" class="ar" transform="translate(567.10,290.40) scale(0.01382,-0.01382)"/><text class="ar" x="598.6" y="357.9" font-size="28.3" text-anchor="end" >-20</text><text class="ar" x="598.6" y="417.5" font-size="28.3" text-anchor="end" >-25</text><text class="ar" x="617.4" y="450.8" font-size="28.3" text-anchor="middle" >0.6</text><text class="ar" x="695.1" y="450.8" font-size="28.3" text-anchor="middle" >0.7</text><text class="ar" x="772.8" y="450.8" font-size="28.3" text-anchor="middle" >0.8</text><text class="ar" x="851.0" y="450.8" font-size="28.3" text-anchor="middle" >0.9</text><text class="ar" x="930.9" y="450.8" font-size="28.3" text-anchor="middle" ><tspan class="h">1</tspan>.0</text><use href="#one" class="ar" transform="translate(911.22,450.80) scale(0.01382,-0.01382)"/><text class="ar" x="1001.1" y="450.8" font-size="28.3" text-anchor="middle" ><tspan class="h">1</tspan>.<tspan class="h">1</tspan></text><use href="#one" class="ar" transform="translate(981.41,450.80) scale(0.01382,-0.01382)"/><use href="#one" class="ar" transform="translate(1005.04,450.80) scale(0.01382,-0.01382)"/><g transform="translate(714.4,491.8) scale(1,1.035)"><text class="ar" x="0.0" y="0.0" font-size="28.0" text-anchor="start" ><tspan font-style="italic">E</tspan> vs. RHE / V</text></g><g transform="translate(26.0,293.7) rotate(-90) scale(1,1.035)"><text class="ar" font-size="27.8"><tspan font-style="italic">i</tspan><tspan font-size="19" dy="6">ORR</tspan><tspan dy="-6"> / mA g</tspan><tspan font-size="19" dy="-8.4" dx="-1.2">-<tspan dx="-1.3" class="h">1</tspan></tspan></text><use href="#one" class="ar" transform="translate(138.73,-8.40) scale(0.00928,-0.00928)"/></g><g transform="translate(540.8,304.2) rotate(-90) scale(1,1.035)"><text class="ar" font-size="27.8"><tspan font-style="italic">i</tspan><tspan font-size="19" dy="6">ORR</tspan><tspan dy="-6"> / mA g</tspan><tspan font-size="19" dy="-8.4" dx="-1.2">-<tspan dx="-1.3" class="h">1</tspan></tspan></text><use href="#one" class="ar" transform="translate(138.73,-8.40) scale(0.00928,-0.00928)"/></g><text x="368.00" y="272.40" font-size="25" letter-spacing="0.30">1050</text><text x="431.40" y="263.70" font-size="16.3">o</text><text transform="translate(440.65,272.40) scale(0.85,1)" font-size="25">C</text><text x="367.50" y="314.70" font-size="25" letter-spacing="0.30">700</text><text x="416.20" y="306.00" font-size="16.3">o</text><text transform="translate(425.45,314.70) scale(0.85,1)" font-size="25">C</text><text x="367.50" y="356.20" font-size="25" letter-spacing="0.30">600</text><text x="416.20" y="347.50" font-size="16.3">o</text><text transform="translate(425.45,356.20) scale(0.85,1)" font-size="25">C</text><text x="890.80" y="217.40" font-size="25" letter-spacing="0.30">1050</text><text x="954.20" y="208.70" font-size="16.3">o</text><text transform="translate(963.45,217.40) scale(0.85,1)" font-size="25">C</text><text x="897.40" y="250.20" font-size="25" letter-spacing="0.30">900</text><text x="946.10" y="241.50" font-size="16.3">o</text><text transform="translate(955.35,250.20) scale(0.85,1)" font-size="25">C</text><text x="896.80" y="288.60" font-size="25" letter-spacing="0.30">800</text><text x="945.50" y="279.90" font-size="16.3">o</text><text transform="translate(954.75,288.60) scale(0.85,1)" font-size="25">C</text><text x="896.80" y="325.00" font-size="25" letter-spacing="0.30">700</text><text x="945.50" y="316.30" font-size="16.3">o</text><text transform="translate(954.75,325.00) scale(0.85,1)" font-size="25">C</text><text x="896.80" y="360.00" font-size="25" letter-spacing="0.30">600</text><text x="945.50" y="351.30" font-size="16.3">o</text><text transform="translate(954.75,360.00) scale(0.85,1)" font-size="25">C</text><text transform="translate(423.5,90.8) scale(0.935,1)" font-size="29.5">(a)</text><text x="953.4" y="59.7" font-size="29.5">(b)</text></svg></body></html>
